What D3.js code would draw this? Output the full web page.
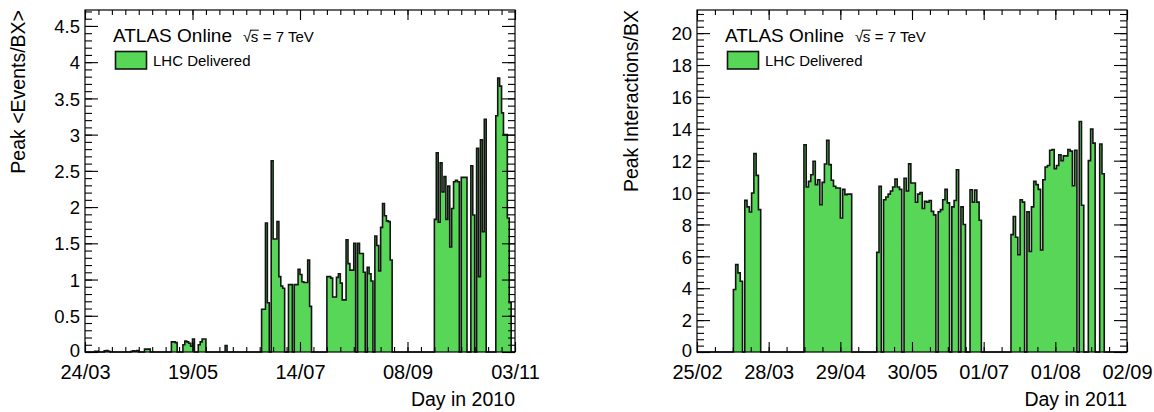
<!DOCTYPE html>
<html>
<head>
<meta charset="utf-8">
<script src="https://cdn.jsdelivr.net/npm/d3@7"></script>
<style>
  body { margin: 0; background: #fff; }
  text { font-family: "Liberation Sans", Arial, Helvetica, sans-serif; }
</style>
</head>
<body>
<div id="chart"></div>
<script>

// peak <events/BX> per day, 24/03/2010 .. 02/11/2010 (one bin per day)
var events2010 = [
    0, 0, 0, 0, 0, 0.01, 0.01, 0, 0, 0,
    0.015, 0.02, 0.01, 0, 0, 0, 0, 0, 0, 0,
    0, 0, 0, 0, 0.01, 0.015, 0.01, 0.02, 0, 0,
    0, 0.04, 0.04, 0.04, 0, 0, 0, 0, 0, 0,
    0, 0, 0, 0, 0, 0.14, 0.14, 0.13, 0, 0,
    0, 0.1, 0.15, 0.14, 0.12, 0.08, 0.18, 0, 0, 0.1,
    0.14, 0.18, 0.18, 0, 0, 0, 0, 0, 0, 0,
    0, 0, 0, 0.09, 0, 0, 0, 0, 0, 0,
    0, 0, 0, 0, 0, 0, 0, 0, 0, 0,
    0, 0, 0.59, 0.59, 1.78, 0.68, 0, 2.64, 1.56, 1.56,
    1.80, 1.04, 0.91, 0.88, 0, 0, 0.93, 0.93, 0, 0.93,
    0.93, 1.14, 1.07, 0.97, 0.96, 0.96, 1.27, 0.63, 0, 0,
    0, 0, 0, 0, 0, 0, 1.04, 1.04, 1.02, 0.76,
    0.76, 1.03, 1.08, 0.95, 0.72, 0.72, 1.55, 1.22, 1.13, 1.13,
    1.5, 0, 1.5, 1.36, 1.36, 1.1, 0, 1.17, 1.08, 0.98,
    0, 1.6, 1.47, 1.12, 1.72, 2.05, 1.88, 1.81, 1.80, 1.27,
    0, 0, 0, 0, 0, 0, 0, 0, 0, 0,
    0, 0, 0, 0, 0, 0, 0, 0, 0, 0,
    0, 0, 1.83, 2.75, 1.79, 2.61, 2.21, 2.42, 1.83, 2.29,
    1.45, 1.98, 2.35, 2.37, 2.35, 0, 2.41, 2.41, 2.41, 0,
    0, 2.57, 1.89, 0, 2.81, 1.04, 2.93, 1.66, 3.21, 0,
    0, 0, 0, 0, 3.26, 3.78, 3.67, 3.30, 3.0, 3.0,
    1.85, 0.68, 0, 0
];

// peak interactions/BX per day, 25/02/2011 .. 01/09/2011
var interactions2011 = [
    0, 0, 0, 0, 0, 0, 0, 0, 0, 0,
    0, 0, 0, 0, 0, 0, 3.92, 5.48, 4.96, 4.44,
    0, 9.51, 9.1, 8.78, 9.97, 12.44, 11.08, 8.93, 0, 0,
    0, 0, 0, 0, 0, 0, 0, 0, 0, 0,
    0, 0, 0, 0, 0, 0, 0, 13.0, 10.35, 10.7,
    11.12, 11.96, 10.5, 10.8, 9.24, 10.64, 11.79, 13.27, 11.75, 10.77,
    10.4, 10.29, 10.29, 8.4, 10.2, 9.87, 9.9, 9.9, 0, 0,
    0, 0, 0, 0, 0, 0, 0, 0, 0, 6.25,
    10.39, 0, 9.55, 9.72, 9.9, 10.1, 10.35, 10.85, 10.35, 10.2,
    0, 10.9, 10.1, 11.8, 10.6, 10.6, 9.39, 9.9, 10.0, 9.0,
    9.45, 9.4, 9.5, 8.82, 8.6, 0, 8.8, 8.93, 9.55, 10.2,
    9.35, 0, 9.1, 9.5, 11.43, 0, 9.1, 8.0, 0, 0,
    10.18, 9.4, 10.15, 9.4, 8.26, 0, 0, 0, 0, 0,
    0, 0, 0, 0, 0, 0, 0, 0, 7.36, 8.5,
    7.2, 6.1, 9.55, 9.4, 0, 8.8, 6.3, 9.1, 10.7, 10.5,
    10.2, 6.4, 10.8, 11.6, 11.7, 12.65, 12.7, 11.5, 11.7, 12.37,
    12.0, 12.3, 12.3, 12.7, 12.6, 10.43, 12.65, 0, 14.46, 9.2,
    0, 0, 12.0, 13.98, 13.1, 0, 0, 13.05, 11.18, 0,
    0, 0, 0, 0, 0, 0, 0, 0, 0
];

var dateLabels2010 = ["24/03", "19/05", "14/07", "08/09", "03/11"];
var dateLabels2011 = ["25/02", "28/03", "29/04", "30/05", "01/07", "01/08", "02/09"];
var yTicks2010 = [0, 0.5, 1, 1.5, 2, 2.5, 3, 3.5, 4, 4.5];
var yTicks2011 = [0, 2, 4, 6, 8, 10, 12, 14, 16, 18, 20];

var fillGreen = "#57d657";

var svg = d3.select("#chart").append("svg").attr("width", 1154).attr("height", 412);

function drawPanel(p) {
    var n = p.values.length;
    var x = d3.scaleLinear().domain([0, n]).range([p.left, p.right]);
    var y = d3.scaleLinear().domain([0, p.yMax]).range([p.bottom, p.top]);
    var g = svg.append("g");

    // histogram: filled steps + black outline
    var pts = p.values.map(function (v, i) { return [i, v]; });
    pts.push([n, p.values[n - 1]]);
    pts.push([n, 0]);

    var area = d3.area()
        .x(function (d) { return x(d[0]); })
        .y0(y(0))
        .y1(function (d) { return y(d[1]); })
        .curve(d3.curveStepAfter);
    var outline = d3.line()
        .x(function (d) { return x(d[0]); })
        .y(function (d) { return y(d[1]); })
        .curve(d3.curveStepAfter);

    g.append("path").attr("d", area(pts)).attr("fill", fillGreen);
    g.append("path").attr("d", outline(pts))
        .attr("fill", "none").attr("stroke", "#141414").attr("stroke-width", 1.6)
        .attr("stroke-linejoin", "miter");

    // ticks
    var step = n / (p.dateLabels.length - 1);
    var xMajor = p.dateLabels.map(function (s, i) { return i * step; });
    var xMinor = d3.range(0, n + 0.001, step / p.xSub);
    var yMinor = d3.range(0, p.yMax, p.yMinorStep);

    function clean(sel) {
        sel.select(".domain").remove();
        sel.attr("font-family", null).attr("font-size", null);
        sel.selectAll("line").attr("stroke", "#000").attr("stroke-width", 1.1);
    }

    g.append("g").attr("transform", "translate(0," + p.bottom + ")")
        .call(d3.axisBottom(x).tickValues(xMinor).tickFormat("").tickSize(-5).tickSizeOuter(0)).call(clean);
    g.append("g").attr("transform", "translate(0," + p.top + ")")
        .call(d3.axisTop(x).tickValues(xMinor).tickFormat("").tickSize(-5).tickSizeOuter(0)).call(clean);
    g.append("g").attr("transform", "translate(0," + p.top + ")")
        .call(d3.axisTop(x).tickValues(xMajor).tickFormat("").tickSize(-10).tickSizeOuter(0)).call(clean);
    var xa = g.append("g").attr("transform", "translate(0," + p.bottom + ")")
        .call(d3.axisBottom(x).tickValues(xMajor)
            .tickFormat(function (d, i) { return p.dateLabels[i]; })
            .tickSize(-10).tickSizeOuter(0).tickPadding(13))
        .call(clean);
    xa.selectAll("text").attr("font-size", 20).attr("fill", "#000");

    g.append("g").attr("transform", "translate(" + p.left + ",0)")
        .call(d3.axisLeft(y).tickValues(yMinor).tickFormat("").tickSize(-7).tickSizeOuter(0)).call(clean);
    g.append("g").attr("transform", "translate(" + p.right + ",0)")
        .call(d3.axisRight(y).tickValues(yMinor).tickFormat("").tickSize(-7).tickSizeOuter(0)).call(clean);
    g.append("g").attr("transform", "translate(" + p.right + ",0)")
        .call(d3.axisRight(y).tickValues(p.yTicks).tickFormat("").tickSize(-13).tickSizeOuter(0)).call(clean);
    var ya = g.append("g").attr("transform", "translate(" + p.left + ",0)")
        .call(d3.axisLeft(y).tickValues(p.yTicks).tickFormat(function (d) { return String(d); })
            .tickSize(-13).tickSizeOuter(0).tickPadding(5))
        .call(clean);
    ya.selectAll("text").attr("font-size", 18.5).attr("fill", "#000")
        .attr("dy", function (d) { return d === 0 ? "0.22em" : "0.36em"; });

    // frame
    g.append("rect")
        .attr("x", p.left).attr("y", p.top)
        .attr("width", p.right - p.left).attr("height", p.bottom - p.top)
        .attr("fill", "none").attr("stroke", "#000").attr("stroke-width", 1.2);

    // axis titles
    g.append("text")
        .attr("transform", "translate(" + p.yTitleX + "," + p.top + ") rotate(-90)")
        .attr("text-anchor", "end").attr("font-size", 19.5)
        .text(p.yTitle);
    g.append("text")
        .attr("x", p.right).attr("y", 406)
        .attr("text-anchor", "end").attr("font-size", 19.5)
        .text(p.xTitle);

    // ATLAS label
    var lx = p.left + 28;
    g.append("text").attr("x", lx).attr("y", 41.7).attr("font-size", 19).text("ATLAS Online");

    var sx = lx + 130;
    var rad = g.append("text").attr("x", sx).attr("y", 41.7).attr("font-size", 15).text("\u221A");
    var rw = rad.node().getComputedTextLength();
    var sLetter = g.append("text").attr("x", sx + rw - 0.5).attr("y", 41.7).attr("font-size", 15).text("s");
    var sw = sLetter.node().getComputedTextLength();
    g.append("line")
        .attr("x1", sx + rw - 1.2).attr("x2", sx + rw + sw)
        .attr("y1", 30.2).attr("y2", 30.2)
        .attr("stroke", "#000").attr("stroke-width", 1);
    g.append("text").attr("x", sx + rw + sw + 4).attr("y", 41.7).attr("font-size", 15)
        .text("= 7 TeV");

    // legend
    g.append("rect")
        .attr("x", lx + 2.5).attr("y", 51.5).attr("width", 31).attr("height", 17.5)
        .attr("fill", fillGreen).attr("stroke", "#141414").attr("stroke-width", 1.6);
    g.append("text").attr("x", lx + 40).attr("y", 66).attr("font-size", 15).text("LHC Delivered");
}

drawPanel({
    values: events2010, dateLabels: dateLabels2010, yTicks: yTicks2010,
    left: 85, right: 515, top: 10, bottom: 352, yMax: 4.72,
    xSub: 8, yMinorStep: 0.1,
    yTitle: "Peak <Events/BX>", yTitleX: 25, xTitle: "Day in 2010"
});

drawPanel({
    values: interactions2011, dateLabels: dateLabels2011, yTicks: yTicks2011,
    left: 697, right: 1127, top: 10, bottom: 352, yMax: 21.45,
    xSub: 4, yMinorStep: 0.4,
    yTitle: "Peak Interactions/BX", yTitleX: 638, xTitle: "Day in 2011"
});

</script>
</body>
</html>
